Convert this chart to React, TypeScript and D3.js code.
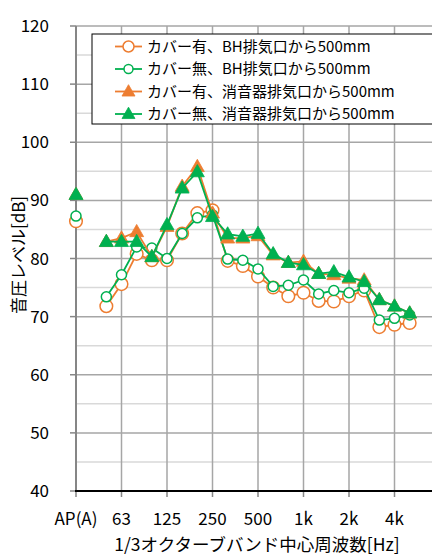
import * as d3 from 'd3';
import React from 'react';

// 1/3 octave band categories (index 1 is an empty slot after AP)
const categories = ['AP(A)', '', '50', '63', '80', '100', '125', '160', '200', '250', '315', '400', '500',
  '630', '800', '1k', '1.25k', '1.6k', '2k', '2.5k', '3.15k', '4k', '5k', '6.3k', '8k'];
const tickCategories = ['AP(A)', '63', '125', '250', '500', '1k', '2k', '4k', '8k'];
const tickLabels = ['AP(A)', '63', '125', '250', '500', '1k', '2k', '4k'];
const yTicks = [40, 50, 60, 70, 80, 90, 100, 110, 120];

const coverBH = [86.4, null, 71.8, 75.6, 80.8, 79.7, 79.7, 84.3, 87.8, 88.3, 79.6, 78.7, 76.9,
  75.0, 73.5, 74.1, 72.7, 72.6, 73.5, 74.5, 68.2, 68.6, 68.9, null, null];
const noCoverBH = [87.3, null, 73.4, 77.2, 82.0, 81.8, 80.0, 84.3, 87.0, 87.5, 79.9, 79.7, 78.2,
  75.2, 75.4, 76.3, 73.9, 74.5, 74.1, 74.9, 69.4, 69.7, 70.3, null, null];
const coverMuffler = [91.0, null, 82.9, 83.5, 84.6, 80.3, 85.5, 92.4, 95.8, 87.8, 83.5, 83.5, 83.9,
  80.6, 79.3, 79.5, 77.4, 77.2, 76.6, 76.3, 72.9, 71.8, 70.6, null, null];
const noCoverMuffler = [91.0, null, 82.9, 82.9, 82.9, 80.3, 85.8, 92.1, 94.9, 87.2, 84.2, 83.8, 84.3,
  80.8, 79.3, 78.9, 77.4, 77.7, 76.8, 76.0, 72.9, 71.8, 70.6, null, null];

const seriesNames = [
  'カバー有、BH排気口から500mm',
  'カバー無、BH排気口から500mm',
  'カバー有、消音器排気口から500mm',
  'カバー無、消音器排気口から500mm',
];

const ORANGE = '#ED7D31';
const GREEN = '#00B050';
const FONT = '"Noto Sans CJK JP", "Noto Sans", sans-serif';

const series = [
  { name: seriesNames[0], values: coverBH, color: ORANGE, marker: 'circle', r: 6.3 },
  { name: seriesNames[1], values: noCoverBH, color: GREEN, marker: 'circle', r: 5 },
  { name: seriesNames[2], values: coverMuffler, color: ORANGE, marker: 'triangle', r: 7 },
  { name: seriesNames[3], values: noCoverMuffler, color: GREEN, marker: 'triangle', r: 7 },
];

const W = 432;
const H = 555;
const margin = { top: 26, right: -8, bottom: 64, left: 76 };

const Marker = ({ kind, x, y, color, r }) => {
  if (kind === 'circle') {
    return <circle cx={x} cy={y} r={r} fill="#fff" stroke={color} strokeWidth={1.5} />;
  }
  const h = r * 1.75;
  const pts = `${x},${y - h * 0.6} ${x + r},${y + h * 0.4} ${x - r},${y + h * 0.4}`;
  return <polygon points={pts} fill={color} stroke={color} strokeWidth={0.8} />;
};

const App = () => {
  const x = d3.scalePoint().domain(categories).range([margin.left, W - margin.right]).padding(0);
  const y = d3.scaleLinear().domain([40, 120]).range([H - margin.bottom, margin.top]);
  const minorTicks = d3.range(45, 120, 10);
  const x0 = margin.left;
  const x1 = W - margin.right;
  const yBottom = y(40);

  const line = d3.line()
    .defined((d) => d[1] != null)
    .x((d) => x(d[0]))
    .y((d) => y(d[1]));

  return (
    <svg width={W} height={H} style={{ position: 'absolute', left: 0, top: 0, fontFamily: FONT }}>
      <rect width={W} height={H} fill="#fff" />
      {/* gridlines */}
      {minorTicks.map((t) => (
        <line key={`m${t}`} x1={x0} x2={x1} y1={y(t)} y2={y(t)} stroke="#d9d9d9" strokeWidth={1.5} />
      ))}
      {yTicks.filter((t) => t > 40).map((t) => (
        <line key={`g${t}`} x1={x0} x2={x1} y1={y(t)} y2={y(t)} stroke="#a6a6a6" strokeWidth={1.5} />
      ))}
      {tickCategories.slice(1).map((c) => (
        <line key={`v${c}`} x1={x(c)} x2={x(c)} y1={y(120)} y2={yBottom} stroke="#a6a6a6" strokeWidth={1.5} />
      ))}
      {/* y axis */}
      <line x1={x0} x2={x0} y1={y(120)} y2={yBottom} stroke="#868686" strokeWidth={2} />
      {yTicks.map((t) => (
        <g key={`yt${t}`}>
          <line x1={x0 - 6} x2={x0} y1={y(t)} y2={y(t)} stroke="#868686" strokeWidth={1.5} />
          <text x={49} y={y(t)} dy="0.36em" textAnchor="end" fontSize={17} fill="#000">{t}</text>
        </g>
      ))}
      {/* x axis */}
      {tickCategories.map((c) => (
        <line key={`xt${c}`} x1={x(c)} x2={x(c)} y1={yBottom} y2={yBottom + 6} stroke="#868686" strokeWidth={1.5} />
      ))}
      {tickLabels.map((c) => (
        <text key={`xl${c}`} x={x(c)} y={525} textAnchor="middle" fontSize={17} fill="#000">{c}</text>
      ))}
      <line x1={x0 - 1} x2={x1} y1={yBottom} y2={yBottom} stroke="#000" strokeWidth={2.2} />
      {/* axis titles */}
      <text x={257} y={551} textAnchor="middle" fontSize={17.5} fill="#000">1/3オクターブバンド中心周波数[Hz]</text>
      <text transform={`translate(25,255) rotate(-90)`} textAnchor="middle" fontSize={17} fill="#000">音圧レベル[dB]</text>
      {/* series */}
      {series.map((s) => {
        const pts = categories.map((c, i) => [c, s.values[i]]);
        return (
          <g key={s.name}>
            <path d={line(pts)} fill="none" stroke={s.color} strokeWidth={1.8} />
            {pts.filter((p) => p[1] != null).map((p) => (
              <Marker key={p[0]} kind={s.marker} x={x(p[0])} y={y(p[1])} color={s.color} r={s.r} />
            ))}
          </g>
        );
      })}
      {/* legend */}
      <rect x={92} y={34} width={400} height={90} fill="#fff" stroke="#000" strokeWidth={1} />
      {series.map((s, i) => {
        const ly = 46.5 + i * 22.5;
        return (
          <g key={`lg${i}`}>
            <line x1={115} x2={142} y1={ly} y2={ly} stroke={s.color} strokeWidth={1.8} />
            <Marker kind={s.marker} x={128.5} y={ly} color={s.color} r={s.marker === 'circle' ? (i === 0 ? 5.5 : 4.5) : 6.5} />
            <text x={147} y={ly} dy="0.36em" fontSize={15} fill="#000">{s.name}</text>
          </g>
        );
      })}
    </svg>
  );
};

export default App;
